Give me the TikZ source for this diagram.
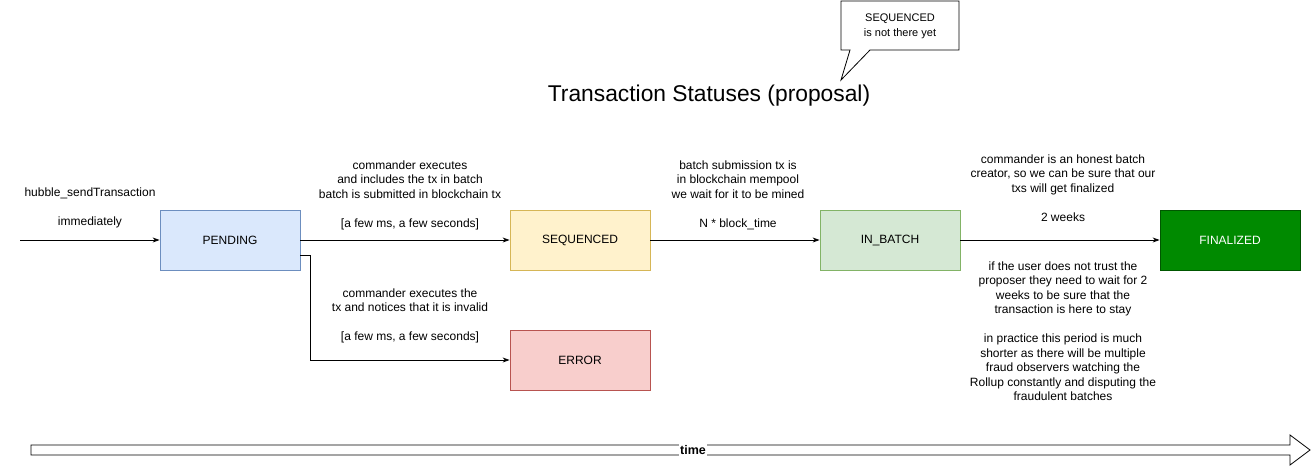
\documentclass[tikz,border=0pt]{standalone}
\usepackage{fontspec}
\setmainfont{Liberation Sans}
\usetikzlibrary{arrows.meta}
\definecolor{pendfill}{HTML}{DAE8FC}
\definecolor{penddraw}{HTML}{6C8EBF}
\definecolor{seqfill}{HTML}{FFF2CC}
\definecolor{seqdraw}{HTML}{D6B656}
\definecolor{batchfill}{HTML}{D5E8D4}
\definecolor{batchdraw}{HTML}{82B366}
\definecolor{errfill}{HTML}{F8CECC}
\definecolor{errdraw}{HTML}{B85450}
\definecolor{finfill}{HTML}{008A00}
\definecolor{findraw}{HTML}{005700}
\begin{document}
\begin{tikzpicture}[x=1pt,y=-1pt,>={Stealth[length=7pt,width=5pt]},line width=0.8pt,
  font=\fontsize{12}{14.5}\selectfont,
  status/.style={draw,rectangle,minimum width=140pt,minimum height=60pt},
  lbl/.style={align=center,inner sep=0pt}]
\useasboundingbox (0,0) rectangle (1311,467);
\node[font=\fontsize{22.8}{27}\selectfont] (title) at (709,96) {Transaction Statuses (proposal)};
% callout
\draw[fill=white] (841,1) -- (959,1) -- (959,50) -- (870,50) -- (841,80) -- (850,50) -- (841,50) -- cycle;
\node[lbl,font=\fontsize{11}{15}\selectfont] (note) at (900,26) {SEQUENCED\\is not there yet};
% statuses
\node[status,fill=pendfill,draw=penddraw] (pend) at (230,240) {PENDING};
\node[status,fill=seqfill,draw=seqdraw] (seq) at (580,240) {SEQUENCED};
\node[status,fill=batchfill,draw=batchdraw] (batch) at (890,240) {IN\_BATCH};
\node[status,fill=finfill,draw=findraw,text=white] (fin) at (1230,240) {FINALIZED};
\node[status,fill=errfill,draw=errdraw] (err) at (580,360) {ERROR};
\coordinate (start) at (20,240);
\draw[->] (start) -- (pend);
\draw[->] (pend) -- (seq);
\draw[->] (seq) -- (batch);
\draw[->] (batch) -- (fin);
\draw[->] ([yshift=-15pt]pend.east) -- ++(10,0) |- (err);
% labels
\node[lbl] (lsend) at (90,208) {hubble\_sendTransaction\\ \mbox{}\\immediately};
\node[lbl] (lseq) at (410,195) {commander executes\\and includes the tx in batch\\batch is submitted in blockchain tx\\ \mbox{}\\{}[a few ms, a few seconds]};
\node[lbl] (lerr) at (410,316) {commander executes the\\tx and notices that it is invalid\\ \mbox{}\\{}[a few ms, a few seconds]};
\node[lbl] (lbatch) at (738,195) {batch submission tx is\\in blockchain mempool\\we wait for it to be mined\\ \mbox{}\\N * block\_time};
\node[lbl] (lfin) at (1063,188) {commander is an honest batch\\creator, so we can be sure that our\\txs will get finalized\\ \mbox{}\\2 weeks};
\node[lbl] (ltrust) at (1063,331) {if the user does not trust the\\proposer they need to wait for 2\\weeks to be sure that the\\transaction is here to stay\\ \mbox{}\\in practice this period is much\\shorter as there will be multiple\\fraud observers watching the\\Rollup constantly and disputing the\\fraudulent batches};
% time arrow
\draw[fill=white] (31,445) -- (1290,445) -- (1290,435) -- (1310,450) -- (1290,465) -- (1290,455) -- (31,455) -- cycle;
\node[fill=white,inner sep=1pt,font=\bfseries\fontsize{12.5}{14}\selectfont] (time) at (693,450) {time};
\end{tikzpicture}
\end{document}
